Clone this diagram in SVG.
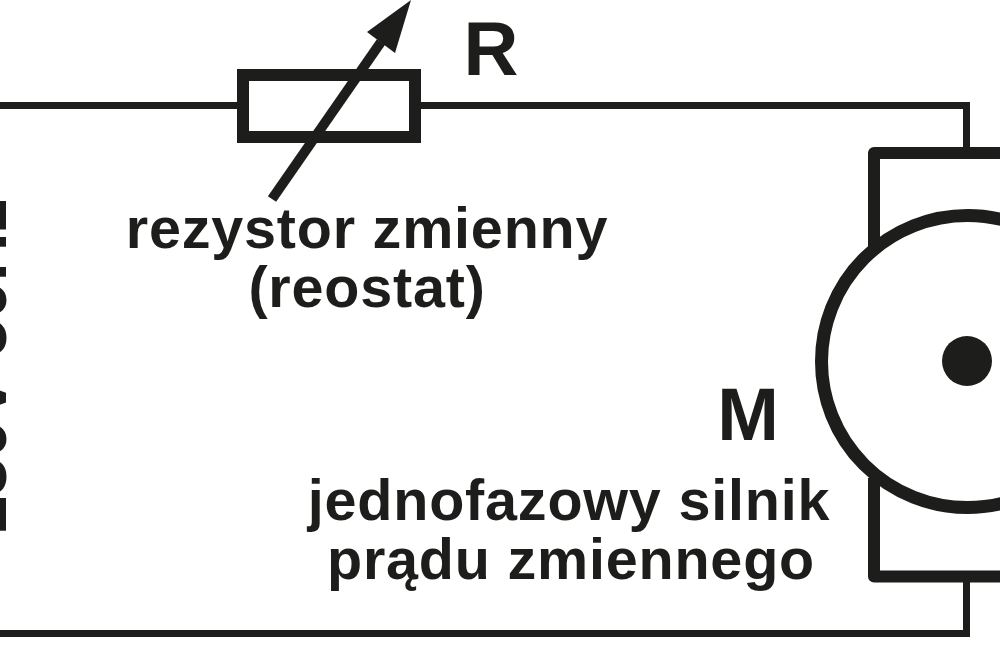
<svg xmlns="http://www.w3.org/2000/svg" width="1000" height="665" viewBox="0 0 1000 665">
<style>
text{font-family:"Liberation Sans",Arial,sans-serif;font-weight:700;fill:#1d1d1b;text-anchor:middle}
.l{font-size:57.500px;letter-spacing:.8px}
.w{fill:none;stroke:#1d1d1b;stroke-width:7;stroke-linejoin:miter}
.h{fill:none;stroke:#1d1d1b;stroke-width:12}
</style>
<rect width="1000" height="665" fill="#fff"/>
<g id="connectors">
<path class="w" d="M0 105.500H237M421 105.500H966.500V150M966.500 580V633.500H0"/>
</g>
<g id="source">
<text transform="translate(6 533) rotate(-90)" style="text-anchor:start;font-size:67.600px">230V 50Hz</text>
</g>
<g id="resistor">
<rect class="h" x="243" y="75" width="172" height="62"/>
<path d="M272 199L381 42" fill="none" stroke="#1d1d1b" stroke-width="10"/>
<polygon points="411,0 367,32 395,53" fill="#1d1d1b"/>
<text x="491" y="75" style="font-size:76px">R</text>
<text class="l" x="367" y="247.500">rezystor zmienny</text>
<text class="l" x="367" y="307">(reostat)</text>
</g>
<g id="motor">
<path class="h" stroke-linejoin="round" d="M874 246V153H1006M874 478V576.500H1006"/>
<circle cx="967.500" cy="361.500" r="146" fill="none" stroke="#1d1d1b" stroke-width="13"/>
<circle cx="967" cy="361" r="25" fill="#1d1d1b"/>
<text x="748" y="440" style="font-size:74px">M</text>
<text class="l" x="569" y="519.500">jednofazowy silnik</text>
<text class="l" x="571" y="579">prądu zmiennego</text>
</g>
</svg>
